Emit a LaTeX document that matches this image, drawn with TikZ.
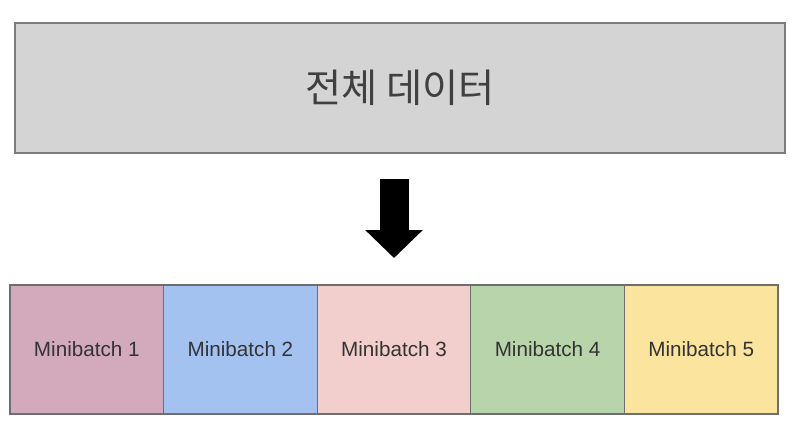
\documentclass[tikz,border=0pt]{standalone}
\usepackage{fontspec}
\setmainfont{Liberation Sans}
\newfontfamily\cjk{Noto Sans CJK KR}
\usetikzlibrary{positioning,calc,arrows.meta}
\definecolor{W}       {RGB}{212,212,212}
\definecolor{B1}      {RGB}{211,170,187}
\definecolor{B2}      {RGB}{164,194,240}
\definecolor{B3}      {RGB}{242,206,204}
\definecolor{B4}      {RGB}{184,212,170}
\definecolor{B5}      {RGB}{250,228,158}
\definecolor{edge}    {RGB}{110,110,110}
\tikzset{%
  whole/.style = {
    line width = 1.1pt,
    fill = W,
    draw = edge!90!white,
    outer sep = 0pt,
    minimum width = 577.5pt,
    minimum height = 97.5pt,
    font = \cjk\fontsize{29.5}{32}\selectfont,
    text = black!75,
  },
  batch/.style = {
    line width = 0.8pt,
    fill = #1,
    draw = edge,
    outer sep = 0pt,
    minimum width = 115.2pt,
    minimum height = 96.75pt,
    font = \fontsize{15.5}{18}\selectfont,
    text = black!80,
  },
  batch/.default = {W},
  bigarrow/.style = {
    -{Triangle[width=42pt,length=21pt]},
    line width = 21.75pt,
    draw = black,
  },
}

\begin{document}
\begin{tikzpicture}[x=0.75pt,y=-0.75pt]
  \useasboundingbox (0,0) rectangle (800,436);
  \node[whole] (all) at (400,88) {전체 데이터};
  \node[batch=B1] (mb1) at (86.8,349.5) {Minibatch 1};
  \node[batch=B2, right=0pt of mb1] (mb2) {Minibatch 2};
  \node[batch=B3, right=0pt of mb2] (mb3) {Minibatch 3};
  \node[batch=B4, right=0pt of mb3] (mb4) {Minibatch 4};
  \node[batch=B5, right=0pt of mb4] (mb5) {Minibatch 5};
  \draw[bigarrow, shorten <=19.5pt, shorten >=20.25pt]
    (mb3.north |- all.south) -- (mb3.north);
\end{tikzpicture}
\end{document}
